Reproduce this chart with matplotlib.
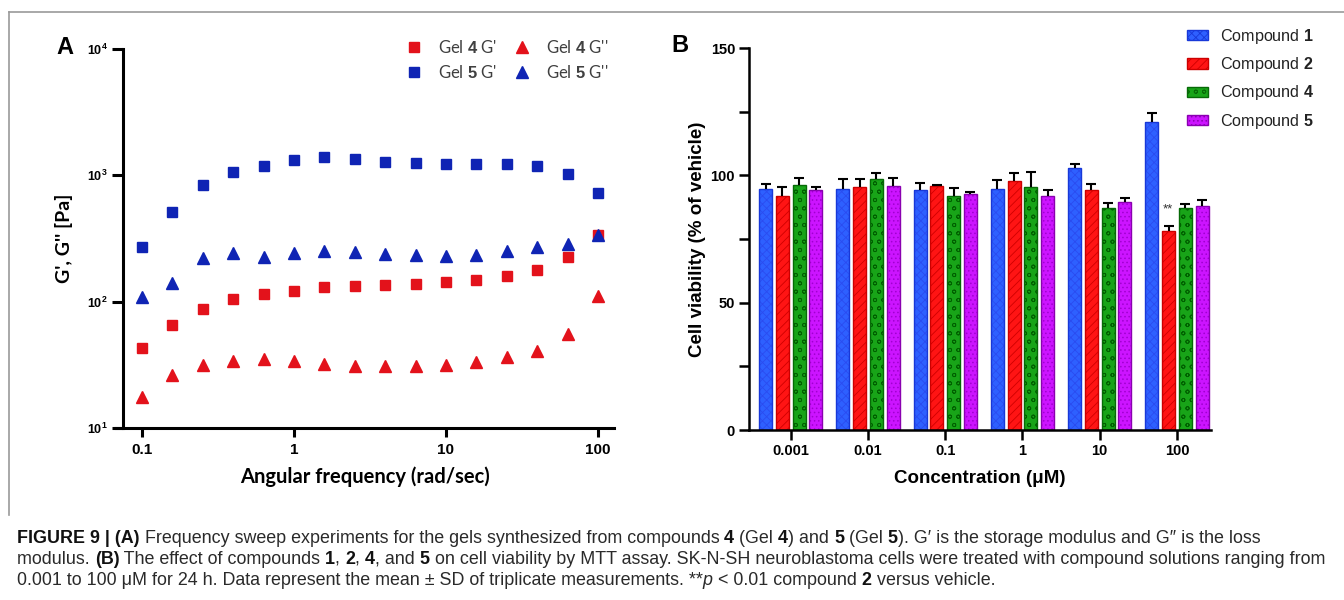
import matplotlib
matplotlib.use('Agg')
import matplotlib.pyplot as plt
import numpy as np
from matplotlib.lines import Line2D
from matplotlib import font_manager as fm
from matplotlib.ticker import FixedLocator, NullLocator, FuncFormatter

# ---------------- data ----------------
freq = [0.1, 0.158, 0.251, 0.398, 0.631, 1.0, 1.585, 2.512, 3.981, 6.310,
        10.0, 15.85, 25.12, 39.81, 63.10, 100.0]
gel4_Gp = [42.6, 65, 87.5, 105, 115, 122, 130, 133, 135.5, 139, 142, 148, 160, 179, 225, 338]
gel4_Gpp = [17.5, 26.1, 31.6, 34.2, 35.3, 33.8, 32.2, 31.2, 30.7, 30.7, 31.6, 33.2, 36.6, 40.5, 55.6, 110]
gel5_Gp = [269, 514, 834, 1062, 1185, 1322, 1403, 1337, 1274, 1245, 1228, 1228, 1222, 1185, 1031, 730]
gel5_Gpp = [108, 140, 222, 244, 226, 244, 251, 248, 238, 233, 231, 236, 253, 272, 285, 336]

concentrations = ['0.001', '0.01', '0.1', '1', '10', '100']
compound_ids = ['1', '2', '4', '5']
comp1 = [94.7, 94.7, 94.1, 94.7, 103.0, 121.0]
comp1_sd = [2.0, 3.9, 2.9, 3.5, 1.4, 3.6]
comp2 = [91.9, 95.6, 95.7, 97.7, 94.3, 78.0]
comp2_sd = [3.5, 3.0, 0.7, 3.2, 2.3, 2.3]
comp4 = [96.4, 98.4, 91.9, 95.4, 87.1, 87.2]
comp4_sd = [2.6, 2.5, 3.3, 5.9, 2.0, 1.7]
comp5 = [94.4, 96.0, 92.6, 91.8, 89.5, 87.8]
comp5_sd = [0.9, 2.8, 1.0, 2.5, 1.5, 2.4]

# ---------------- fonts ----------------
plt.rcParams['mathtext.fontset'] = 'custom'
plt.rcParams['mathtext.rm'] = 'Liberation Sans'
plt.rcParams['mathtext.bf'] = 'Liberation Sans:bold'
plt.rcParams['mathtext.it'] = 'Liberation Sans:italic'
plt.rcParams['hatch.linewidth'] = 0.6

def has_font(name):
    try:
        fm.findfont(fm.FontProperties(family=name), fallback_to_default=False)
        return True
    except Exception:
        return False

CAP_FONT = 'Liberation Sans Narrow' if has_font('Liberation Sans Narrow') else 'Liberation Sans'
CAP_SIZE = 14.0 if CAP_FONT == 'Liberation Sans Narrow' else 12.9
A_FONT = 'Lato' if has_font('Lato') else 'DejaVu Sans'
B_FONT = 'Liberation Sans'

W, H = 1344, 600
fig = plt.figure(figsize=(W / 100, H / 100), dpi=100)

def px_rect(l, t, r, b):
    return [l / W, 1 - b / H, (r - l) / W, (b - t) / H]

# frame lines
fig.add_artist(Line2D([9 / W, 1.0], [1 - 12 / H, 1 - 12 / H], color='#9a9a9a', lw=1.2))
fig.add_artist(Line2D([9 / W, 9 / W], [1 - 12 / H, 1 - 515 / H], color='#9a9a9a', lw=1.2))

# ---------------- Panel A ----------------
axA = fig.add_axes(px_rect(116, 49, 614, 428))
red_c = '#e3121b'
blue_c = '#0f24b4'
h1, = axA.plot(freq, gel4_Gp, 's', color=red_c, ms=6.5, ls='none')
h2, = axA.plot(freq, gel4_Gpp, '^', color=red_c, ms=8, ls='none')
h3, = axA.plot(freq, gel5_Gp, 's', color=blue_c, ms=6.5, ls='none')
h4, = axA.plot(freq, gel5_Gpp, '^', color=blue_c, ms=8, ls='none')
axA.set_xscale('log')
axA.set_yscale('log')
x_left = 10 ** (-1 - 26 / 152)
axA.set_xlim(x_left, 10 ** (2 + 16 / 152))
axA.set_ylim(10, 1e4)
axA.spines['left'].set_position(('data', 10 ** (-1 - 19 / 152)))
axA.xaxis.set_major_locator(FixedLocator([0.1, 1, 10, 100]))
axA.xaxis.set_minor_locator(NullLocator())
axA.yaxis.set_major_locator(FixedLocator([10, 100, 1000, 10000]))
axA.yaxis.set_minor_locator(NullLocator())
axA.xaxis.set_major_formatter(FuncFormatter(lambda v, p: {0.1: '0.1', 1: '1', 10: '10', 100: '100'}.get(round(v, 3), '')))
axA.yaxis.set_major_formatter(FuncFormatter(lambda v, p: r'$\mathbf{10^{%d}}$' % round(np.log10(v))))
for s in ['top', 'right']:
    axA.spines[s].set_visible(False)
for s in ['left', 'bottom']:
    axA.spines[s].set_linewidth(2.2)
axA.tick_params(axis='x', width=2.2, length=6.5, labelsize=11, pad=4)
axA.tick_params(axis='y', width=2.2, length=8, labelsize=9, pad=3)
for lab in axA.get_xticklabels():
    lab.set_fontweight('bold')
    lab.set_family(B_FONT)
axA.set_xlabel('Angular frequency (rad/sec)', fontsize=14.5, fontweight='bold', family=A_FONT, labelpad=7)
axA.set_ylabel("G', G'' [Pa]", fontsize=14, fontweight='bold', family=A_FONT, labelpad=10)
legA = axA.legend([h1, h3, h2, h4],
                  [r"Gel $\mathbf{4}$ G'", r"Gel $\mathbf{5}$ G'", r"Gel $\mathbf{4}$ G''", r"Gel $\mathbf{5}$ G''"],
                  ncol=2, frameon=False, loc='upper left',
                  bbox_to_anchor=(406 / W, 1 - 39 / H), bbox_transform=fig.transFigure,
                  prop={'family': A_FONT, 'size': 12}, handlelength=1.0, handletextpad=0.93,
                  columnspacing=1.0, labelspacing=0.48, borderpad=0, borderaxespad=0)
for t in legA.get_texts():
    t.set_color('#404040')
fig.text(65 / W, 1 - 47 / H, 'A', fontsize=17, fontweight='bold', family=B_FONT, ha='center', va='center')

# ---------------- Panel B ----------------
axB = fig.add_axes(px_rect(749, 48, 1211, 430))
x = np.arange(len(concentrations))
pitch = 0.217
width = 0.17
series = [
    (comp1, comp1_sd, '#2e60ff', '#1838d8', '#2a4cf0', 'xxxx'),
    (comp2, comp2_sd, '#ff1414', '#cc0000', '#d00000', '////'),
    (comp4, comp4_sd, '#18a418', '#066a06', '#006000', 'oo'),
    (comp5, comp5_sd, '#cc14ff', '#8a00b0', '#a000d0', '....'),
]
handles = []
for i, (vals, sd, fc, ec, hc, hatch) in enumerate(series):
    xs = x + (i - 1.5) * pitch
    axB.bar(xs, vals, width=width, color=fc, edgecolor=hc, hatch=hatch, linewidth=0, zorder=2)
    axB.bar(xs, vals, width=width, fill=False, edgecolor=ec, linewidth=1.0, zorder=2.1)
    handles.append(plt.Rectangle((0, 0), 1, 1, facecolor=fc, edgecolor=ec, hatch=hatch, linewidth=1.0))
    axB.errorbar(xs, vals, yerr=[np.zeros(len(vals)), sd], fmt='none', ecolor='black',
                 elinewidth=1.5, capsize=0, zorder=3)
    axB.plot(xs, np.array(vals) + np.array(sd), ls='none', marker='_', color='black',
             ms=7, mew=1.5, zorder=3)
axB.text(x[5] - 0.5 * pitch - 0.01, 86.5, '**', fontsize=9.5, family=B_FONT, color='#333333',
         ha='center', va='center')
axB.set_xlim(-0.54, 5.44)
axB.set_ylim(0, 150)
axB.set_xticks(x)
axB.set_xticklabels(concentrations)
axB.set_yticks([0, 50, 100, 150])
axB.yaxis.set_minor_locator(FixedLocator([25, 75, 125]))
for s in ['top', 'right']:
    axB.spines[s].set_visible(False)
for s in ['left', 'bottom']:
    axB.spines[s].set_linewidth(1.8)
axB.tick_params(which='both', width=1.8, length=7, labelsize=10.5, pad=3)
for lab in axB.get_xticklabels() + axB.get_yticklabels():
    lab.set_fontweight('bold')
    lab.set_family(B_FONT)
axB.set_xlabel('Concentration (μM)', fontsize=13.5, fontweight='bold', family=B_FONT, labelpad=9)
axB.set_ylabel('Cell viability (% of vehicle)', fontsize=13.5, fontweight='bold', family=B_FONT, labelpad=3)
legB = axB.legend(handles, [r'Compound $\mathbf{%s}$' % c for c in compound_ids],
                  frameon=False, loc='upper left',
                  bbox_to_anchor=(1187 / W, 1 - 27 / H), bbox_transform=fig.transFigure,
                  prop={'family': B_FONT, 'size': 11.6}, handlelength=1.3, handleheight=0.6,
                  handletextpad=0.75, labelspacing=0.57, borderpad=0, borderaxespad=0)
for t in legB.get_texts():
    t.set_color('#222222')
fig.text(680 / W, 1 - 46 / H, 'B', fontsize=17, fontweight='bold', family=B_FONT, ha='center', va='center')

# ---------------- caption ----------------
renderer = fig.canvas.get_renderer()

def text_width(txt, size, weight, style):
    a = fig.text(0, 0, '|' + txt + '|', fontsize=size, family=CAP_FONT, weight=weight, style=style)
    b = fig.text(0, 0, '||', fontsize=size, family=CAP_FONT, weight=weight, style=style)
    w = a.get_window_extent(renderer).width - b.get_window_extent(renderer).width
    a.remove()
    b.remove()
    return w

def draw_runs(x_px, y_px, runs, size):
    xp = x_px
    for txt, weight, style in runs:
        col = '#111111' if weight == 'bold' else '#2a2a2a'
        fig.text(xp / W, 1 - y_px / H, txt, fontsize=size, family=CAP_FONT, weight=weight,
                 style=style, color=col, ha='left', va='baseline')
        xp += text_width(txt, size, weight, style)

N, B, I = ('normal', 'normal'), ('bold', 'normal'), ('normal', 'italic')
line1 = [('FIGURE 9 | (A)',) + B, (' Frequency sweep experiments for the gels synthesized from compounds ',) + N,
         ('4',) + B, (' (Gel ',) + N, ('4',) + B, (') and ',) + N, ('5',) + B, (' (Gel ',) + N, ('5',) + B,
         ('). G\u2032 is the storage modulus and G\u2033 is the loss',) + N]
line2 = [('modulus. ',) + N, ('(B)',) + B, (' The effect of compounds ',) + N, ('1',) + B, (', ',) + N,
         ('2',) + B, (', ',) + N, ('4',) + B, (', and ',) + N, ('5',) + B,
         (' on cell viability by MTT assay. SK-N-SH neuroblastoma cells were treated with compound solutions ranging from',) + N]
line3 = [('0.001 to 100 \u03bcM for 24 h. Data represent the mean \u00b1 SD of triplicate measurements. **',) + N,
         ('p',) + I, (' < 0.01 compound ',) + N, ('2',) + B, (' versus vehicle.',) + N]
draw_runs(17, 543, line1, CAP_SIZE)
draw_runs(17, 564, line2, CAP_SIZE)
draw_runs(17, 585, line3, CAP_SIZE)

fig.savefig('out.png', dpi=100)
